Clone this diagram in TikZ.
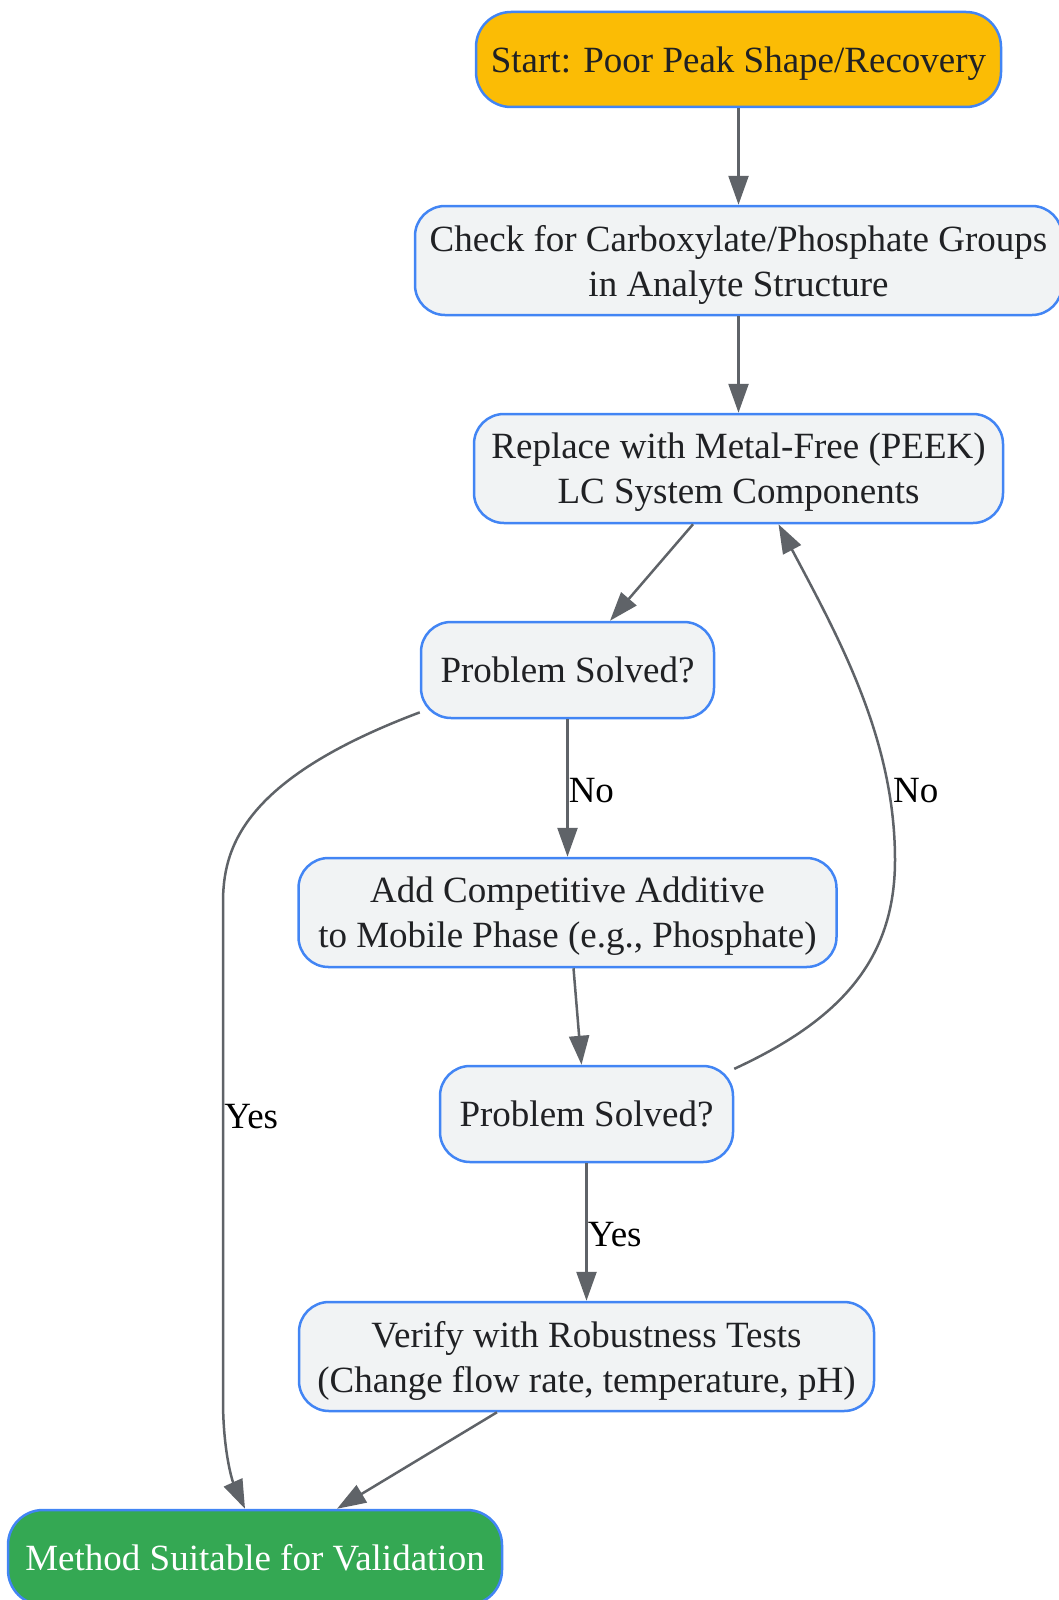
\documentclass[tikz,border=0pt]{standalone}
\usepackage{fontspec}
\setmainfont{Liberation Serif}
\usepackage{tikz}
\usetikzlibrary{positioning,arrows.meta}
\definecolor{nodeblue}{HTML}{4285F4}
\definecolor{nodegray}{HTML}{F1F3F4}
\definecolor{startyellow}{HTML}{FBBC05}
\definecolor{endgreen}{HTML}{34A853}
\definecolor{edgegray}{HTML}{5F6368}
\definecolor{textgray}{HTML}{202124}

\begin{document}
\begin{tikzpicture}[x=1pt,y=-1pt,
  flowbox/.style={draw=nodeblue, line width=2.5pt, fill=nodegray, rounded corners=30pt,
    align=center, text=textgray, inner sep=0pt, text depth=-2pt, font=\fontsize{37}{45}\selectfont},
  flow/.style={draw=edgegray, line width=2.5pt, -{Triangle[length=29pt,width=20pt]}},
  lbl/.style={anchor=west, inner sep=0pt, text=black, font=\fontsize{37}{45}\selectfont}]
  \clip (0,0) rectangle (1059,1600);
  \node[flowbox, fill=startyellow, minimum width=525pt, minimum height=95pt, rounded corners=35pt] (start) at (738.5,59.5) {Start: Poor Peak Shape/Recovery};
  \node[flowbox, minimum width=647pt, minimum height=109pt] (check) at (738.5,260.5) {Check for Carboxylate/Phosphate Groups\\in Analyte Structure};
  \node[flowbox, minimum width=529pt, minimum height=109pt] (replace) at (738.5,468.5) {Replace with Metal-Free (PEEK)\\LC System Components};
  \node[flowbox, minimum width=293pt, minimum height=96pt] (ps1) at (567.5,670) {Problem Solved?};
  \node[flowbox, minimum width=538pt, minimum height=109pt] (add) at (567.5,912.5) {Add Competitive Additive\\to Mobile Phase (e.g., Phosphate)};
  \node[flowbox, minimum width=293pt, minimum height=96pt] (ps2) at (586.5,1114) {Problem Solved?};
  \node[flowbox, minimum width=575pt, minimum height=109pt] (verify) at (586.5,1356.5) {Verify with Robustness Tests\\(Change flow rate, temperature, pH)};
  \node[flowbox, fill=endgreen, text=white, minimum width=494pt, minimum height=95pt, rounded corners=35pt] (method) at (255,1557.5) {Method Suitable for Validation};

  \draw[flow] (start) -- (check);
  \draw[flow] (check) -- (replace);
  \draw[flow] ([xshift=-45.5pt]replace.south) -- ([xshift=42.5pt]ps1.north);
  \draw[flow] (ps1) -- node[lbl, pos=0.52] {No} (add);
  \draw[flow] ([xshift=6pt]add.south) -- ([xshift=-5pt]ps2.north);
  \draw[flow] (ps2) -- node[lbl, pos=0.52] {Yes} (verify);
  \draw[flow] ([xshift=-89.5pt]verify.south) -- ([xshift=82pt]method.north);
  \draw[flow] (ps1.196) .. controls (240,780) and (223,850) .. (223,903)
    -- node[lbl, pos=0.43] {Yes} (223,1400) .. controls (223,1450) and (232,1480) .. ([xshift=-10pt]method.north);
  \draw[flow] (ps2.17) .. controls (840,1020) and (895,960) .. (895,860)
    .. controls (895,740) and (840,640) .. ([xshift=40pt]replace.south);
  \node[lbl] (noback) at (893,791) {No};
\end{tikzpicture}
\end{document}
